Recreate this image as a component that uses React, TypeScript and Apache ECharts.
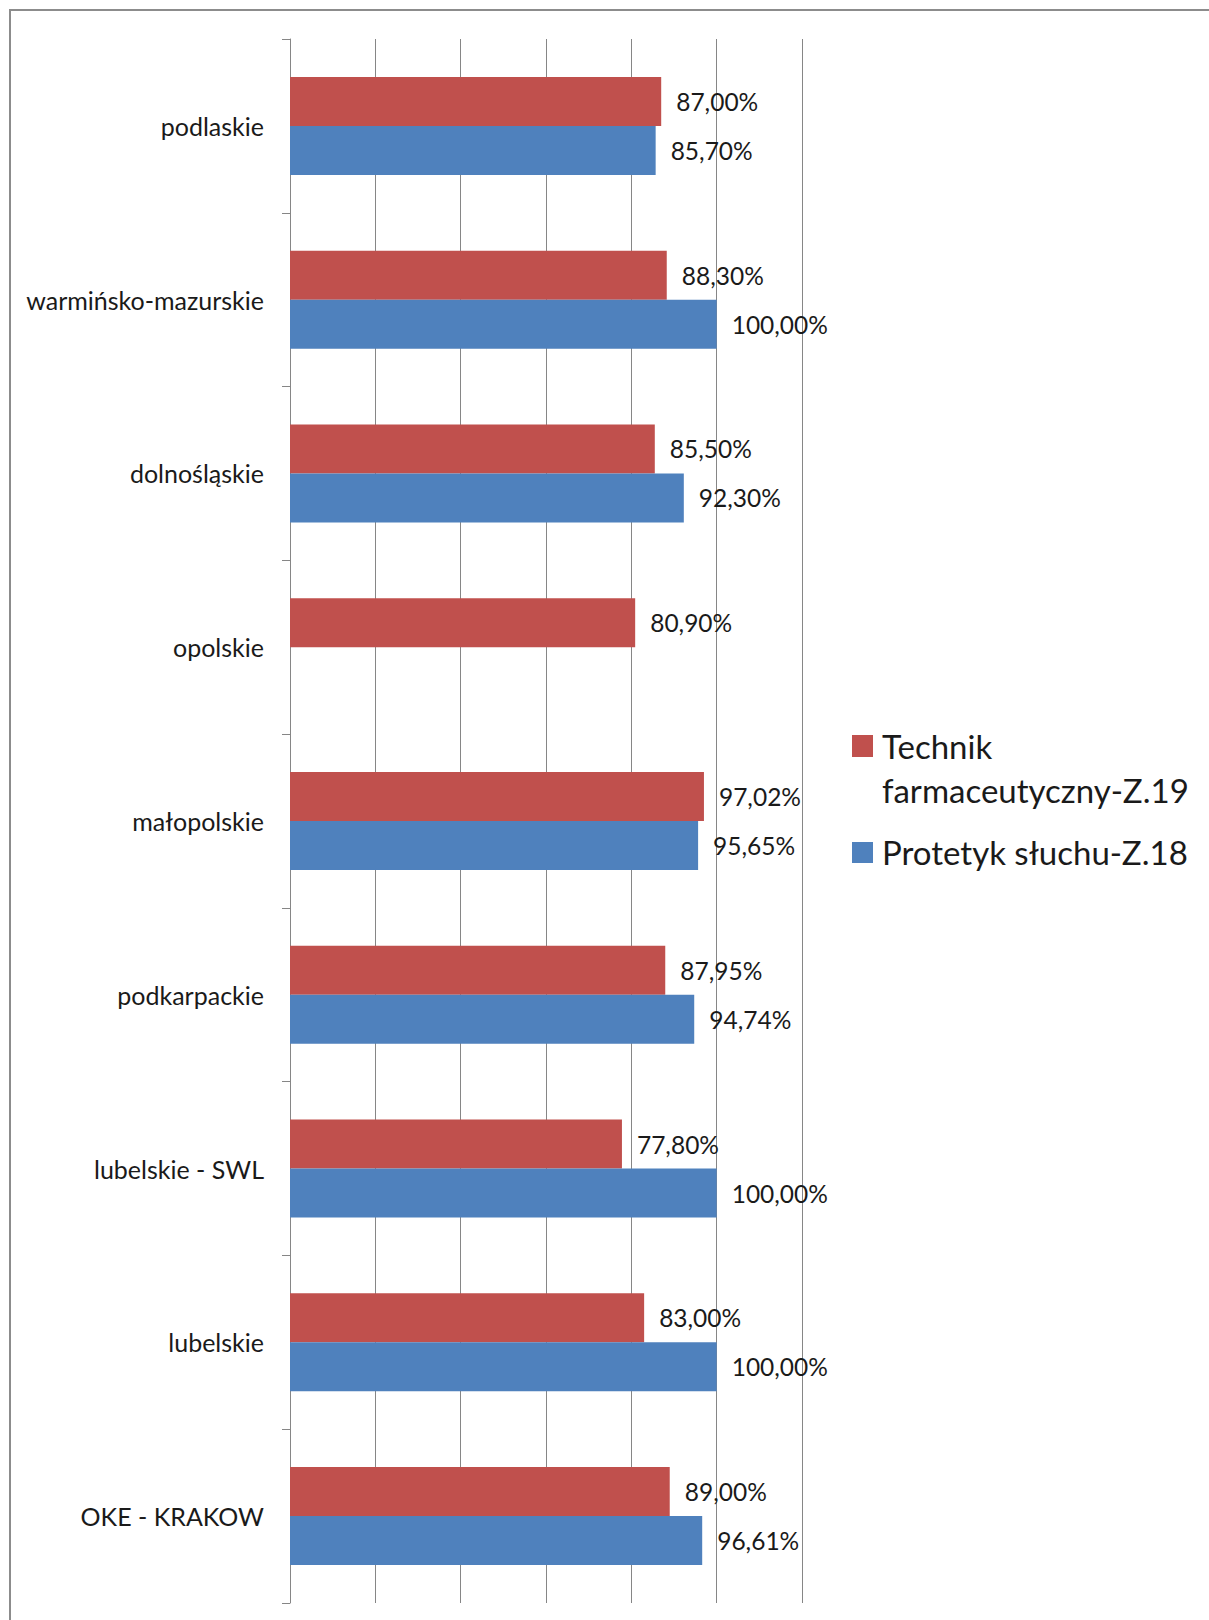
import React, { useEffect, useRef } from "react";
import * as echarts from "echarts";

const categories = [
  "podlaskie",
  "warmińsko-mazurskie",
  "dolnośląskie",
  "opolskie",
  "małopolskie",
  "podkarpackie",
  "lubelskie - SWL",
  "lubelskie",
  "OKE - KRAKOW",
];
const seriesNames = ["Technik farmaceutyczny-Z.19", "Protetyk słuchu-Z.18"];
const legendLines = [["Technik", "farmaceutyczny-Z.19"], ["Protetyk słuchu-Z.18"]];
const technikValues = [87.0, 88.3, 85.5, 80.9, 97.02, 87.95, 77.8, 83.0, 89.0];
const protetykValues: (number | null)[] = [85.7, 100.0, 92.3, null, 95.65, 94.74, 100.0, 100.0, 96.61];
const xMin = 0;
const xMax = 120;
const xInterval = 20;
const colors = ["#C0504D", "#4F81BD"];

const FONT = "Lato, 'Open Sans', sans-serif";
const GRID_COLOR = "#868686";
const TEXT_COLOR = "#1a1a1a";

function fmt(v: number) {
  return v.toFixed(2).replace(".", ",") + "%";
}

export default function App() {
  const ref = useRef<HTMLDivElement>(null);
  useEffect(() => {
    if (!ref.current) return;
    const chart = echarts.init(ref.current, undefined, { renderer: "svg" });
    const labelCfg = {
      show: true,
      position: "right" as const,
      distance: 15,
      fontFamily: FONT,
      fontSize: 24.5,
      color: TEXT_COLOR,
      formatter: (p: any) => (p.value == null ? "" : fmt(p.value)),
    };
    const option: any = {
      animation: false,
      backgroundColor: "#fff",
      grid: { left: 290, top: 39, width: 512, height: 1564, containLabel: false },
      xAxis: {
        type: "value",
        min: xMin,
        max: xMax,
        interval: xInterval,
        axisLine: { show: false },
        axisTick: { show: false },
        axisLabel: { show: false },
        splitLine: { show: true, lineStyle: { color: GRID_COLOR, width: 1 } },
      },
      yAxis: {
        type: "category",
        data: categories,
        inverse: true,
        axisLine: { show: true, lineStyle: { color: GRID_COLOR, width: 1 } },
        axisTick: { show: true, length: 8, lineStyle: { color: GRID_COLOR } },
        axisLabel: { margin: 26, fontFamily: FONT, fontSize: 25, color: TEXT_COLOR },
      },
      series: [
        {
          name: seriesNames[0],
          type: "bar",
          data: technikValues,
          barWidth: 49,
          barGap: "0%",
          itemStyle: { color: colors[0] },
          label: labelCfg,
        },
        {
          name: seriesNames[1],
          type: "bar",
          data: protetykValues,
          barWidth: 49,
          barGap: "0%",
          itemStyle: { color: colors[1] },
          label: labelCfg,
        },
      ],
      graphic: [
        {
          type: "rect",
          shape: { x: 10, y: 10, width: 1300, height: 1700 },
          style: { fill: "none", stroke: "#8c8c8c", lineWidth: 2 },
          silent: true,
        },
        { type: "rect", shape: { x: 852, y: 735, width: 21, height: 22 }, style: { fill: colors[0] } },
        {
          type: "text",
          x: 882,
          y: 746,
          style: { text: legendLines[0][0], fontFamily: FONT, fontSize: 33, fill: TEXT_COLOR, verticalAlign: "middle" },
        },
        {
          type: "text",
          x: 882,
          y: 790,
          style: { text: legendLines[0][1], fontFamily: FONT, fontSize: 33, fill: TEXT_COLOR, verticalAlign: "middle" },
        },
        { type: "rect", shape: { x: 852, y: 842, width: 21, height: 21 }, style: { fill: colors[1] } },
        {
          type: "text",
          x: 882,
          y: 852,
          style: { text: legendLines[1][0], fontFamily: FONT, fontSize: 33, fill: TEXT_COLOR, verticalAlign: "middle" },
        },
      ],
    };
    chart.setOption(option);
    return () => chart.dispose();
  }, []);
  return (
    <div
      ref={ref}
      style={{ position: "absolute", left: 0, top: 0, width: 1209, height: 1620 }}
    />
  );
}
